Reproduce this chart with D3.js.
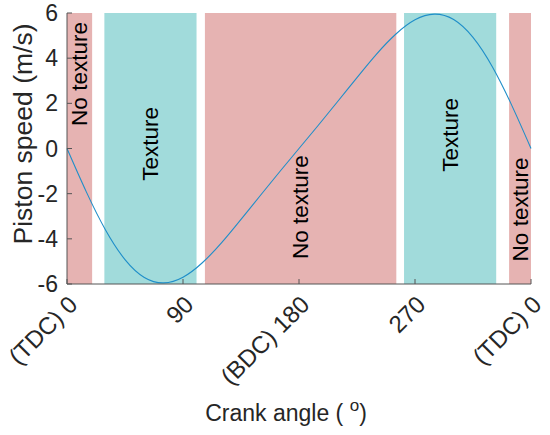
<!DOCTYPE html>
<html><head><meta charset="utf-8">
<script src="https://cdn.jsdelivr.net/npm/d3@7"></script>
<style>
html,body{margin:0;padding:0;background:#fff;}
text{font-family:"Liberation Sans",Arial,sans-serif;}
</style></head>
<body><svg id="c" width="550" height="435"></svg>
<script>
// ---- data ----
const angles = [0,15,30,45,60,75,90,105,120,135,150,165,180,195,210,225,240,255,270,285,300,315,330,345,360];
const speeds = [0,-1.92,-3.62,-4.92,-5.71,-5.95,-5.70,-5.06,-4.17,-3.14,-2.08,-1.03,0,1.03,2.08,3.14,4.17,5.06,5.70,5.95,5.71,4.92,3.62,1.92,0];
const regionStart = [0,29,107,261.5,343];
const regionEnd = [19.5,100.5,255.5,333,360];
const regionLabel = ["No texture","Texture","No texture","Texture","No texture"];
const regionLabelY = [3.3,0.2,-2.6,0.6,-2.7];
const xTicks = [0,90,180,270,360];
const xTickLabels = ["(TDC) 0","90","(BDC) 180","270","(TDC) 0"];
const yTicks = [-6,-4,-2,0,2,4,6];

// ---- layout ----
const svg = d3.select("#c");
const x = d3.scaleLinear().domain([0,360]).range([67,531]);
const y = d3.scaleLinear().domain([-6,6]).range([284,13]);
const colors = {"No texture":"#e6b3b2","Texture":"#a1dbdb"};

svg.append("g").selectAll("rect").data(regionStart).join("rect")
  .attr("x",(d)=>x(d))
  .attr("width",(d,i)=>x(regionEnd[i])-x(d))
  .attr("y",y(6)).attr("height",y(-6)-y(6))
  .attr("fill",(d,i)=>colors[regionLabel[i]]);

const line = d3.line().x((d,i)=>x(angles[i])).y(d=>y(d)).curve(d3.curveNatural);
svg.append("path").datum(speeds).attr("d",line)
  .attr("fill","none").attr("stroke","#1f8ec9").attr("stroke-width",1.1);

svg.append("g").selectAll("text").data(regionLabel).join("text")
  .attr("transform",(d,i)=>`translate(${x((regionStart[i]+regionEnd[i])/2)},${y(regionLabelY[i])}) rotate(-90)`)
  .attr("text-anchor","middle").attr("dominant-baseline","central")
  .attr("font-size",22.5).attr("fill","#000").text(d=>d);

// axes
const axisColor = "#555";
const ax = svg.append("g");
ax.append("line").attr("x1",x(0)).attr("x2",x(360)).attr("y1",y(-6)).attr("y2",y(-6)).attr("stroke",axisColor).attr("stroke-width",1);
ax.append("line").attr("x1",x(0)).attr("x2",x(0)).attr("y1",y(-6)).attr("y2",y(6)).attr("stroke",axisColor).attr("stroke-width",1);
ax.selectAll(".xt").data(xTicks).join("line")
  .attr("x1",d=>x(d)).attr("x2",d=>x(d)).attr("y1",y(-6)).attr("y2",y(-6)-5)
  .attr("stroke",axisColor);
ax.selectAll(".yt").data(yTicks).join("line")
  .attr("x1",x(0)).attr("x2",x(0)+5).attr("y1",d=>y(d)).attr("y2",d=>y(d))
  .attr("stroke",axisColor);

ax.selectAll(".xl").data(xTicks).join("text")
  .attr("transform",d=>`translate(${x(d)+6},${y(-6)+16}) rotate(-45)`)
  .attr("text-anchor","end").attr("dominant-baseline","central")
  .attr("font-size",24).attr("fill","#262626").text((d,i)=>xTickLabels[i]);
ax.selectAll(".yl").data(yTicks).join("text")
  .attr("x",x(0)-9).attr("y",d=>y(d))
  .attr("text-anchor","end").attr("dominant-baseline","central")
  .attr("font-size",23).attr("fill","#262626").text(d=>d);

svg.append("text").attr("transform",`translate(286,421)`)
  .attr("text-anchor","middle").attr("font-size",23).attr("fill","#262626")
  .text("Crank angle ( ").append("tspan").attr("font-size",17).attr("dy",-10).text("o")
  .select(function(){return this.parentNode;}).append("tspan").attr("dy",10).text(")");

svg.append("text").attr("transform",`translate(32,134) rotate(-90)`)
  .attr("text-anchor","middle").attr("font-size",26.5).attr("fill","#262626")
  .text("Piston speed (m/s)");
</script></body></html>
